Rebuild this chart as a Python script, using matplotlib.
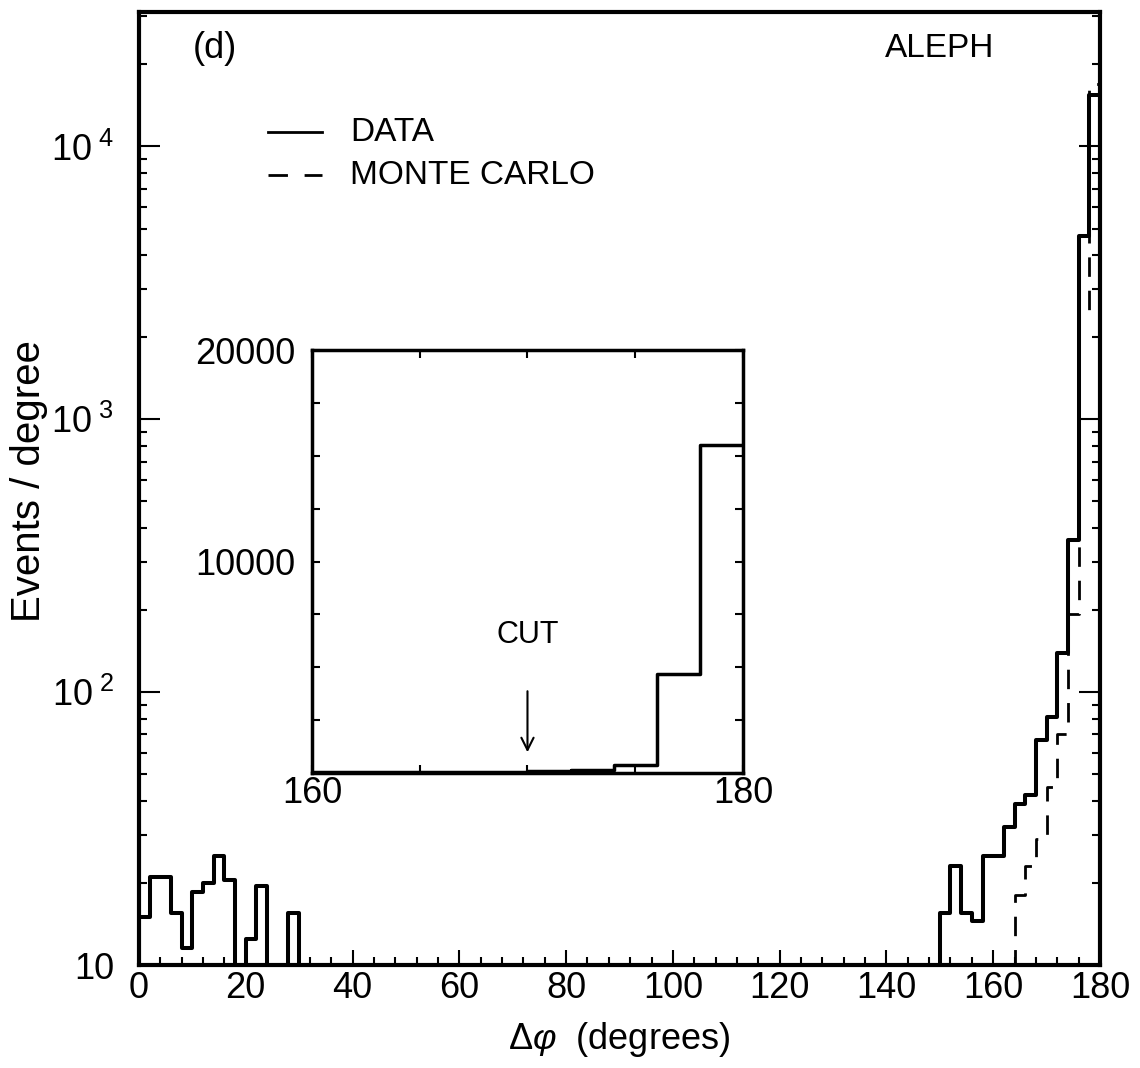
import matplotlib
matplotlib.use("Agg")
import matplotlib.pyplot as plt
import numpy as np
from matplotlib.ticker import FixedLocator, MultipleLocator, LogLocator, NullFormatter

# ALEPH delta-phi distribution, panel (d)
# 2 degree bins from 0 to 180
bin_edges = np.arange(0, 182, 2)

# data, events / degree (0 = empty / below the plot)
data_counts = [
    15, 21, 21, 15.5, 11.5, 18.5, 20, 25, 20.5, 0,      # 0 - 20
    12.5, 19.5, 0, 0, 15.5, 0, 0, 0, 0, 0,              # 20 - 40
    0, 0, 0, 0, 0, 0, 0, 0, 0, 0,                       # 40 - 60
    0, 0, 0, 0, 0, 0, 0, 0, 0, 0,                       # 60 - 80
    0, 0, 0, 0, 0, 0, 0, 0, 0, 0,                       # 80 - 100
    0, 0, 0, 0, 0, 0, 0, 0, 0, 0,                       # 100 - 120
    0, 0, 0, 0, 0, 0, 0, 0, 0, 0,                       # 120 - 140
    0, 0, 0, 0, 0, 15.5, 23, 15.5, 14.5, 25,            # 140 - 160
    25, 32, 39, 42, 67, 81, 139, 360, 4700, 15500,      # 160 - 180
]

# monte carlo, normalised to the data
mc_counts = [
    0, 0, 0, 0, 0, 0, 0, 0, 0, 0,
    0, 0, 0, 0, 0, 0, 0, 0, 0, 0,
    0, 0, 0, 0, 0, 0, 0, 0, 0, 0,
    0, 0, 0, 0, 0, 0, 0, 0, 0, 0,
    0, 0, 0, 0, 0, 0, 0, 0, 0, 0,
    0, 0, 0, 0, 0, 0, 0, 0, 0, 0,
    0, 0, 0, 0, 0, 0, 0, 0, 0, 0,
    0, 0, 0, 0, 0, 0, 0, 0, 0, 0,
    0, 0, 18, 23, 29, 45, 70, 193, 2500, 17000,         # 160 - 180
]

x_ticks = [0, 20, 40, 60, 80, 100, 120, 140, 160, 180]
y_ticks = [10, 100, 1000, 10000]
y_tick_labels = ["10", r"$10^{\ 2}$", r"$10^{\ 3}$", r"$10^{\ 4}$"]

inset_y_ticks = [0, 2500, 5000, 7500, 10000, 12500, 15000, 17500, 20000]
inset_y_labels = ["", "", "", "", "10000", "", "", "", "20000"]
cut_value = 170

plt.rcParams["font.family"] = "Liberation Sans"
plt.rcParams["mathtext.fontset"] = "custom"
plt.rcParams["mathtext.rm"] = "Liberation Sans"
plt.rcParams["mathtext.it"] = "Liberation Sans:italic"

fig = plt.figure(figsize=(11.4, 10.68), dpi=100)
ax = fig.add_axes([0.1219, 0.0964, 0.843, 0.892])

# step histograms (repeat last value so the last bin is drawn)
ax.plot(bin_edges, data_counts + [data_counts[-1]], drawstyle="steps-post",
        color="black", lw=2.9, label="DATA")
ax.plot(bin_edges, mc_counts + [mc_counts[-1]], drawstyle="steps-post",
        color="black", lw=2.0, linestyle=(0, (7, 5)), label="MONTE CARLO")

ax.set_yscale("log", nonpositive="clip")
ax.set_xlim(0, 180)
ax.set_ylim(10, 3.1e4)

ax.xaxis.set_major_locator(FixedLocator(x_ticks))
ax.xaxis.set_minor_locator(MultipleLocator(4))
ax.set_yticks(y_ticks)
ax.set_yticklabels(y_tick_labels)
ax.yaxis.set_minor_locator(LogLocator(base=10, subs=np.arange(2, 10)))
ax.yaxis.set_minor_formatter(NullFormatter())

ax.tick_params(which="both", direction="in", right=True, width=1.5)
ax.tick_params(which="major", length=11, labelsize=26)
ax.tick_params(axis="x", which="major", pad=4)
ax.tick_params(axis="y", which="major", pad=18, length=15)
ax.tick_params(which="minor", length=6)
for s in ax.spines.values():
    s.set_linewidth(3)

ax.set_xlabel(r"$\Delta\varphi$  (degrees)", fontsize=26)
ax.xaxis.set_label_coords(0.5, -0.058)
ax.set_ylabel("Events / degree", fontsize=29)
ax.yaxis.set_label_coords(-0.095, 0.508)

ax.text(0.079, 0.962, "(d)", transform=ax.transAxes, fontsize=26,
        ha="center", va="center")
ax.text(0.8335, 0.962, "ALEPH", transform=ax.transAxes, fontsize=24,
        ha="center", va="center")

# legend drawn by hand, old style
ax.plot([0.134, 0.190], [0.874, 0.874], transform=ax.transAxes, color="black", lw=2)
ax.plot([0.134, 0.190], [0.829, 0.829], transform=ax.transAxes, color="black", lw=2,
        linestyle=(0, (7, 6)))
ax.text(0.2196, 0.874, "DATA", transform=ax.transAxes, fontsize=24, va="center")
ax.text(0.2196, 0.829, "MONTE CARLO", transform=ax.transAxes, fontsize=24, va="center")

# inset, linear scale close to 180 degrees
ins = fig.add_axes([0.2737, 0.2762, 0.378, 0.396])
ins.plot(bin_edges, data_counts + [data_counts[-1]], drawstyle="steps-post",
         color="black", lw=2.5)
ins.set_xlim(160, 180)
ins.set_ylim(0, 20000)
ins.set_xticks([160, 165, 170, 175, 180])
ins.set_xticklabels(["160", "", "", "", "180"])
ins.set_yticks(inset_y_ticks)
ins.set_yticklabels(inset_y_labels)
ins.tick_params(direction="in", top=True, right=True, length=6, width=1.5,
                labelsize=26)
ins.tick_params(axis="y", pad=12)
ins.tick_params(axis="x", pad=2)
for s in ins.spines.values():
    s.set_linewidth(2.5)

ins.text(cut_value, 6550, "CUT", ha="center", va="center", fontsize=22)
ins.annotate("", xy=(cut_value, 850), xytext=(cut_value, 4000),
             arrowprops=dict(arrowstyle="->", color="black", lw=1.5,
                             mutation_scale=22))

plt.savefig("out.png", dpi=100)
plt.close()
